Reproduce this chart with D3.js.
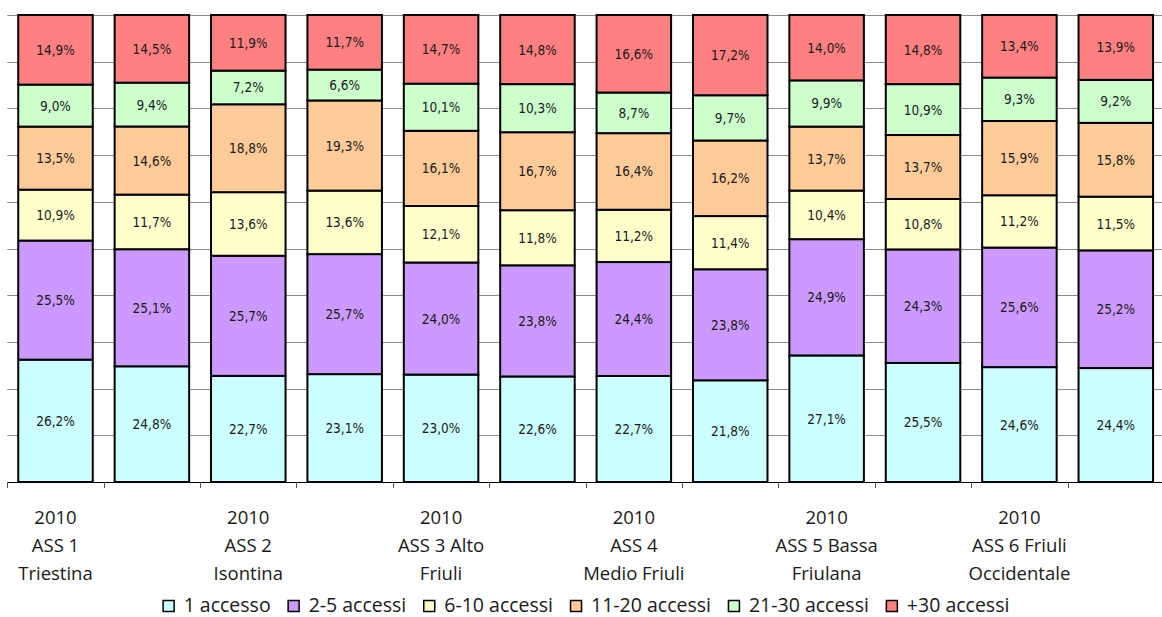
<!DOCTYPE html>
<html>
<head>
<meta charset="utf-8">
<script src="https://cdn.jsdelivr.net/npm/d3@7"></script>
<style>
  body { margin: 0; background: #fff; }
  svg { display: block; }
  .val { font-family: "DejaVu Sans Condensed", "DejaVu Sans", sans-serif; font-size: 13.5px; fill: #1a1a1a; }
  .cat, .leg { font-family: "Open Sans", sans-serif; fill: #1a1a1a; }
</style>
</head>
<body>
<svg id="chart" width="1162" height="617"></svg>
<script>
// categories: each pair is 2010 + following year for one ASS, only the first of each pair is labelled
var categories = ["c1", "c2", "c3", "c4", "c5", "c6", "c7", "c8", "c9", "c10", "c11", "c12"];
var tickLabels = [
  ["2010", "ASS 1", "Triestina"], [],
  ["2010", "ASS 2", "Isontina"], [],
  ["2010", "ASS 3 Alto", "Friuli"], [],
  ["2010", "ASS 4", "Medio Friuli"], [],
  ["2010", "ASS 5 Bassa", "Friulana"], [],
  ["2010", "ASS 6 Friuli", "Occidentale"], []
];

var seriesNames = ["1 accesso", "2-5 accessi", "6-10 accessi", "11-20 accessi", "21-30 accessi", "+30 accessi"];
var seriesColors = ["#ccffff", "#cc99ff", "#ffffcc", "#ffcc99", "#ccffcc", "#ff8080"];

var acc1   = [26.2, 24.8, 22.7, 23.1, 23.0, 22.6, 22.7, 21.8, 27.1, 25.5, 24.6, 24.4];
var acc2_5 = [25.5, 25.1, 25.7, 25.7, 24.0, 23.8, 24.4, 23.8, 24.9, 24.3, 25.6, 25.2];
var acc6_10 = [10.9, 11.7, 13.6, 13.6, 12.1, 11.8, 11.2, 11.4, 10.4, 10.8, 11.2, 11.5];
var acc11_20 = [13.5, 14.6, 18.8, 19.3, 16.1, 16.7, 16.4, 16.2, 13.7, 13.7, 15.9, 15.8];
var acc21_30 = [9.0, 9.4, 7.2, 6.6, 10.1, 10.3, 8.7, 9.7, 9.9, 10.9, 9.3, 9.2];
var acc30 = [14.9, 14.5, 11.9, 11.7, 14.7, 14.8, 16.6, 17.2, 14.0, 14.8, 13.4, 13.9];

var seriesValues = [acc1, acc2_5, acc6_10, acc11_20, acc21_30, acc30];

// build rows for d3.stack
var rows = categories.map(function(c, i) {
  var r = { cat: c };
  seriesNames.forEach(function(s, j) { r[s] = seriesValues[j][i]; });
  return r;
});

var svg = d3.select("#chart");

var plotLeft = 7.3, plotRight = 1164, plotTop = 15, plotBottom = 482;

var x = d3.scaleBand()
  .domain(categories)
  .range([plotLeft, plotRight])
  .paddingInner(0.227)
  .paddingOuter(0.1135);

var y = d3.scaleLinear().domain([0, 1]).range([plotBottom, plotTop]);

var stack = d3.stack().keys(seriesNames).offset(d3.stackOffsetExpand);
var stacked = stack(rows);

// gridlines
svg.append("g")
  .selectAll("line")
  .data(y.ticks(10))
  .enter().append("line")
  .attr("x1", plotLeft)
  .attr("x2", 1162)
  .attr("y1", function(d) { return Math.round(y(d)) + 0.5; })
  .attr("y2", function(d) { return Math.round(y(d)) + 0.5; })
  .attr("stroke", function(d) { return d === 0 ? "#000" : "#8c8c8c"; })
  .attr("stroke-width", 1);

// x ticks at category boundaries
var step = x.step();
var boundaries = categories.map(function(c) { return x(c) - step * 0.1135; });
svg.append("g")
  .selectAll("line")
  .data(boundaries)
  .enter().append("line")
  .attr("x1", function(d) { return Math.round(d) + 0.5; })
  .attr("x2", function(d) { return Math.round(d) + 0.5; })
  .attr("y1", plotBottom)
  .attr("y2", plotBottom + 6)
  .attr("stroke", "#555");

// bars
var layer = svg.append("g")
  .selectAll("g")
  .data(stacked)
  .enter().append("g")
  .attr("fill", function(d, i) { return seriesColors[i]; });

layer.selectAll("rect")
  .data(function(d) { return d; })
  .enter().append("rect")
  .attr("x", function(d) { return x(d.data.cat); })
  .attr("y", function(d) { return y(d[1]); })
  .attr("width", x.bandwidth())
  .attr("height", function(d) { return y(d[0]) - y(d[1]); })
  .attr("stroke", "#000")
  .attr("stroke-width", 2);

// value labels
var fmt = function(v) { return v.toFixed(1).replace(".", ",") + "%"; };
stacked.forEach(function(s, j) {
  svg.append("g")
    .selectAll("text")
    .data(s)
    .enter().append("text")
    .attr("class", "val")
    .attr("x", function(d) { return x(d.data.cat) + x.bandwidth() / 2; })
    .attr("y", function(d) { return (y(d[0]) + y(d[1])) / 2 + 5; })
    .attr("text-anchor", "middle")
    .text(function(d, i) { return fmt(seriesValues[j][i]); });
});

// category labels
var lab = svg.append("g")
  .selectAll("text")
  .data(categories)
  .enter().append("text")
  .attr("class", "cat")
  .attr("x", function(d) { return x(d) + x.bandwidth() / 2; })
  .attr("y", 524)
  .attr("text-anchor", "middle")
  .attr("font-size", 18.5);

lab.each(function(d, i) {
  var t = d3.select(this);
  tickLabels[i].forEach(function(line, k) {
    t.append("tspan")
      .attr("x", x(d) + x.bandwidth() / 2)
      .attr("dy", k === 0 ? 0 : 28)
      .text(line);
  });
});

// legend
var legend = svg.append("g");
var lx = 0;
seriesNames.forEach(function(s, i) {
  var g = legend.append("g").attr("transform", "translate(" + lx + ",0)");
  g.append("rect")
    .attr("x", 0.5).attr("y", -5.5)
    .attr("width", 11).attr("height", 11)
    .attr("fill", seriesColors[i])
    .attr("stroke", "#000")
    .attr("stroke-width", 1.5);
  var t = g.append("text")
    .attr("class", "leg")
    .attr("x", 21)
    .attr("y", 6)
    .attr("font-size", 19.5)
    .text(s);
  lx += 21 + t.node().getComputedTextLength() + 17;
});
var legendWidth = lx - 17;
legend.attr("transform", "translate(" + (586 - legendWidth / 2) + ",606)");
</script>
</body>
</html>
